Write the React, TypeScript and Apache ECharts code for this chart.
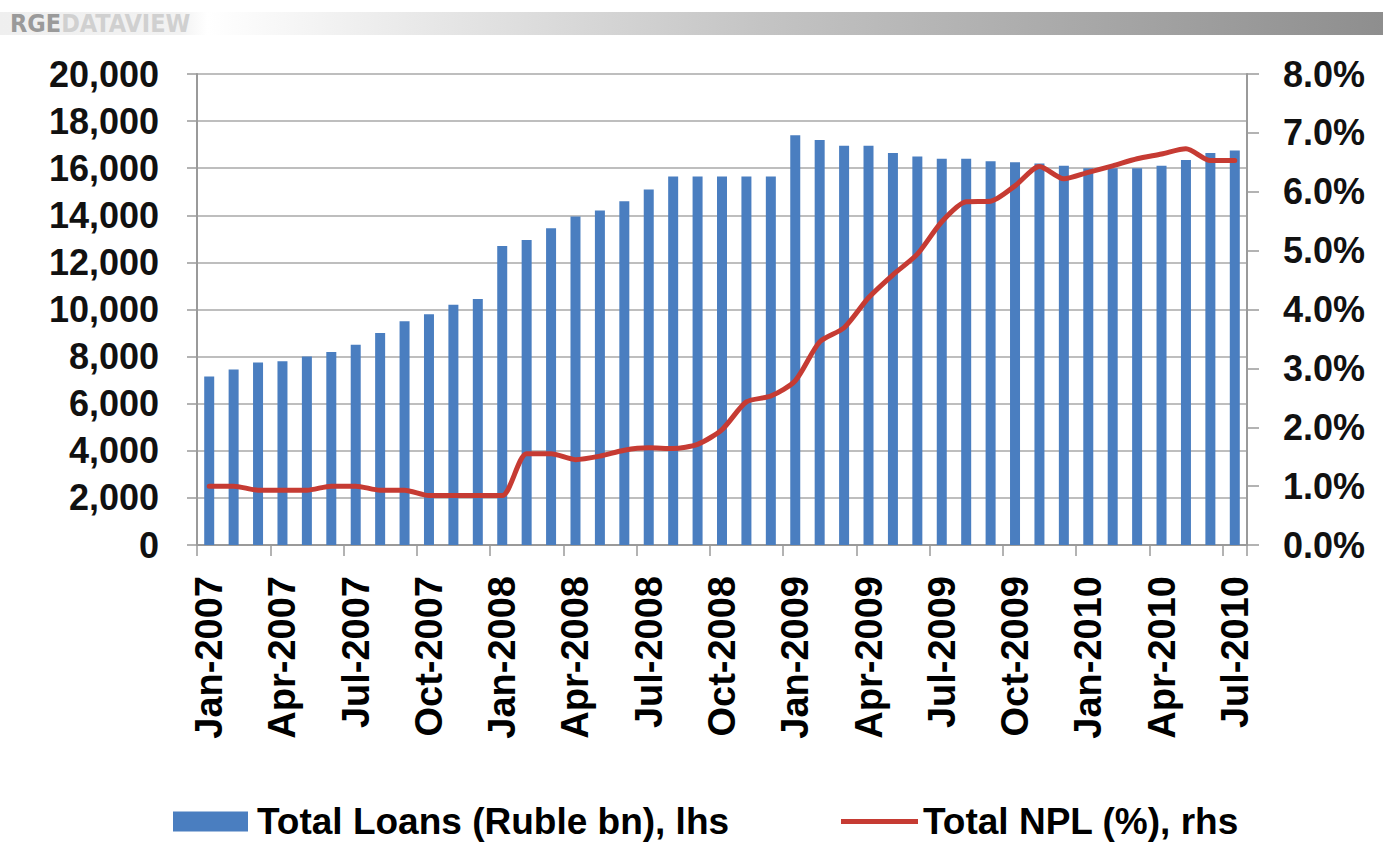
import React, { useEffect, useRef } from "react";
import * as echarts from "echarts";

const categories = [
  "Jan-2007", "Feb-2007", "Mar-2007", "Apr-2007", "May-2007", "Jun-2007",
  "Jul-2007", "Aug-2007", "Sep-2007", "Oct-2007", "Nov-2007", "Dec-2007",
  "Jan-2008", "Feb-2008", "Mar-2008", "Apr-2008", "May-2008", "Jun-2008",
  "Jul-2008", "Aug-2008", "Sep-2008", "Oct-2008", "Nov-2008", "Dec-2008",
  "Jan-2009", "Feb-2009", "Mar-2009", "Apr-2009", "May-2009", "Jun-2009",
  "Jul-2009", "Aug-2009", "Sep-2009", "Oct-2009", "Nov-2009", "Dec-2009",
  "Jan-2010", "Feb-2010", "Mar-2010", "Apr-2010", "May-2010", "Jun-2010",
  "Jul-2010",
];

const totalLoans = [
  7150, 7450, 7750, 7800, 8000, 8200, 8500, 9000, 9500, 9800, 10200, 10450,
  12700, 12950, 13450, 13950, 14200, 14600, 15100, 15650, 15650, 15650, 15650, 15650,
  17400, 17200, 16950, 16950, 16650, 16500, 16400, 16400, 16300, 16250, 16200, 16100,
  16000, 16000, 16000, 16100, 16350, 16650, 16750,
];

const totalNpl = [
  1.0, 1.0, 0.93, 0.93, 0.93, 1.0, 1.0, 0.93, 0.93, 0.84, 0.84, 0.84,
  0.84, 1.55, 1.55, 1.45, 1.51, 1.61, 1.65, 1.64, 1.71, 1.96, 2.43, 2.53,
  2.79, 3.45, 3.69, 4.2, 4.59, 4.94, 5.49, 5.83, 5.84, 6.1, 6.43, 6.22,
  6.33, 6.44, 6.56, 6.64, 6.73, 6.53, 6.53,
];

const loansName = "Total Loans (Ruble bn), lhs";
const nplName = "Total NPL (%), rhs";

const FONT = "'Liberation Sans', Arial, sans-serif";
const NARROW = "'Liberation Sans Narrow', 'DejaVu Sans Condensed', 'Liberation Sans', sans-serif";

export default function App() {
  const ref = useRef<HTMLDivElement>(null);

  useEffect(() => {
    document.body.style.margin = "0";
    if (!ref.current) return;
    const chart = echarts.init(ref.current, undefined, { renderer: "svg" });
    const legendText = {
      fontSize: 37,
      fontWeight: "bold",
      color: "#000",
      fontFamily: FONT,
    };
    chart.setOption({
      animation: false,
      backgroundColor: "#ffffff",
      graphic: [
        {
          type: "rect",
          shape: { x: 0, y: 12, width: 1383, height: 23 },
          style: {
            fill: new echarts.graphic.LinearGradient(0, 0, 1, 0, [
              { offset: 0, color: "#efefef" },
              { offset: 0.13, color: "#f2f2f2" },
              { offset: 0.15, color: "#ffffff" },
              { offset: 0.55, color: "#c4c4c4" },
              { offset: 1, color: "#8e8e8e" },
            ]),
          },
          z: 0,
        },
        {
          type: "text",
          x: 10,
          y: 11,
          style: {
            text: "{a|RGE}{b|DATAVIEW}",
            rich: {
              a: { fill: "#9a9a9a", fontSize: 25, fontWeight: "bold", fontFamily: NARROW },
              b: { fill: "#d0d0d0", fontSize: 25, fontWeight: "bold", fontFamily: NARROW },
            },
          },
          z: 1,
        },
      ],
      legend: [
        {
          data: [{ name: loansName, icon: "rect" }],
          left: 168,
          top: 798,
          itemWidth: 75,
          itemHeight: 20,
          textStyle: { ...legendText, padding: [0, 0, 0, 4] },
        },
        {
          data: [{ name: nplName, icon: "rect", itemStyle: { color: "#c63b33" } }],
          left: 836,
          top: 798,
          itemWidth: 77,
          itemHeight: 5,
          textStyle: { ...legendText, padding: [0, 0, 0, 0] },
        },
      ],
      grid: { left: 197, right: 136, top: 74, bottom: 301, containLabel: false },
      xAxis: {
        type: "category",
        data: categories,
        boundaryGap: true,
        axisLine: { show: true, lineStyle: { color: "#9a9a9a", width: 2 } },
        axisTick: {
          show: true,
          interval: 2,
          length: 11,
          alignWithLabel: false,
          lineStyle: { color: "#9a9a9a", width: 1.5 },
        },
        axisLabel: {
          interval: 2,
          rotate: 90,
          margin: 31,
          color: "#000",
          fontSize: 38,
          fontWeight: "bold",
          fontFamily: FONT,
        },
        splitLine: { show: false },
      },
      yAxis: [
        {
          type: "value",
          min: 0,
          max: 20000,
          interval: 2000,
          position: "left",
          axisLine: { show: true, lineStyle: { color: "#9a9a9a", width: 2 } },
          axisTick: { show: true, length: 10, lineStyle: { color: "#9a9a9a", width: 1.5 } },
          axisLabel: {
            margin: 38,
            color: "#111",
            fontSize: 36,
            fontWeight: "bold",
            fontFamily: FONT,
            formatter: (v: number) => v.toLocaleString("en-US"),
          },
          splitLine: { show: true, lineStyle: { color: "#a8a8a8", width: 1.5 } },
        },
        {
          type: "value",
          min: 0,
          max: 8,
          interval: 1,
          position: "right",
          axisLine: { show: true, lineStyle: { color: "#9a9a9a", width: 2 } },
          axisTick: { show: true, length: 12, lineStyle: { color: "#9a9a9a", width: 1.5 } },
          axisLabel: {
            margin: 36,
            color: "#111",
            fontSize: 36,
            fontWeight: "bold",
            fontFamily: FONT,
            formatter: (v: number) => v.toFixed(1) + "%",
          },
          splitLine: { show: false },
        },
      ],
      series: [
        {
          name: loansName,
          type: "bar",
          data: totalLoans,
          yAxisIndex: 0,
          barWidth: 10,
          itemStyle: { color: "#4a7ec0" },
          z: 2,
        },
        {
          name: nplName,
          type: "line",
          data: totalNpl,
          yAxisIndex: 1,
          symbol: "none",
          smooth: 0.25,
          lineStyle: { color: "#c63b33", width: 5, join: "round", cap: "round" },
          itemStyle: { color: "#c63b33" },
          z: 3,
        },
      ],
    });
    return () => chart.dispose();
  }, []);

  return <div ref={ref} style={{ width: 1383, height: 846 }} />;
}
